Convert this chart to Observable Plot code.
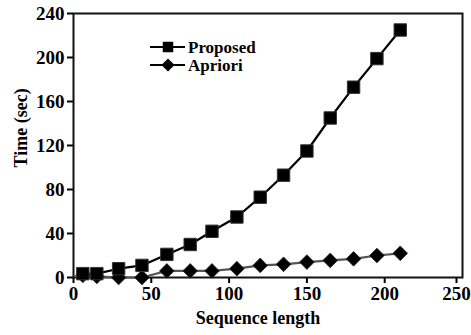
<!DOCTYPE html>
<html>
<head>
<meta charset="utf-8">
<script src="https://cdn.jsdelivr.net/npm/d3@7"></script>
<script src="https://cdn.jsdelivr.net/npm/@observablehq/plot@0.6"></script>
<style>
  html, body { margin: 0; padding: 0; background: #fff; }
  #wrap { position: relative; width: 471px; height: 335px; overflow: hidden; }
  #legend { position: absolute; left: 0; top: 0; }
  svg text { font-family: "Liberation Serif", "Times New Roman", serif; font-weight: bold; }
</style>
</head>
<body>
<div id="wrap"><div id="chart"></div><svg id="legend" width="471" height="335"></svg></div>
<script>
// Data
const seqLength = [6, 15, 29, 44, 60, 75, 89, 105, 120, 135, 150, 165, 180, 195, 210];
const proposed  = [3.5, 3.5, 8, 11, 21, 30, 42, 55, 73, 93, 115, 145, 173, 199, 225];
const apriori   = [2, 1, 0, 0, 6, 6, 6, 8, 11, 12, 14, 15.5, 17, 20, 22];
const seriesNames = ["Proposed", "Apriori"];
const xTicks = [0, 50, 100, 150, 200, 250];
const yTicks = [0, 40, 80, 120, 160, 200, 240];

const propData = seqLength.map((x, i) => ({x, y: proposed[i]}));
const apriData = seqLength.map((x, i) => ({x, y: apriori[i]}));

const FONT = "Liberation Serif";
const axisStyle = { tickSize: 6, tickPadding: 3, strokeWidth: 2, fontSize: 19, fontWeight: "bold", label: null };

const chart = Plot.plot({
  width: 471,
  height: 335,
  marginLeft: 73,
  marginRight: 9,
  marginTop: 13,
  marginBottom: 58,
  style: { fontFamily: FONT, fontSize: "18px", fontWeight: "bold", color: "#000", background: "#fff", overflow: "visible" },
  x: { domain: [0, 250], label: null },
  y: { domain: [0, 240], label: null },
  marks: [
    Plot.axisX({ ...axisStyle, ticks: xTicks.slice(0, -1) }),
    Plot.axisX({ ...axisStyle, ticks: xTicks.slice(-1), dx: -6 }),
    Plot.axisY({ ...axisStyle, ticks: yTicks }),
    Plot.frame({ stroke: "#111", strokeWidth: 2 }),
    Plot.line(apriData, { x: "x", y: "y", stroke: "#555", strokeWidth: 2.2 }),
    Plot.dot(apriData, { x: "x", y: "y", symbol: "diamond2", r: 6.6, fill: "#000", stroke: "#222", strokeWidth: 0.8 }),
    Plot.line(propData, { x: "x", y: "y", stroke: "#000", strokeWidth: 2.2 }),
    Plot.dot(propData, { x: "x", y: "y", symbol: "square", r: 7, fill: "#000", stroke: "#333", strokeWidth: 1 }),
    Plot.text(["Sequence length"], { frameAnchor: "bottom", dy: 46, dx: -10, fontSize: 18, fontWeight: "bold" }),
    Plot.text(["Time (sec)"], { frameAnchor: "left", dx: -52, dy: 22, rotate: -90, fontSize: 18, fontWeight: "bold" })
  ]
});
document.getElementById("chart").appendChild(chart);

// Legend (top-left inside the plot area)
const lg = d3.select("#legend").append("g").attr("font-family", FONT).attr("font-size", 17).attr("font-weight", "bold");
const rows = [
  { name: seriesNames[0], sym: d3.symbolSquare, size: 110 },
  { name: seriesNames[1], sym: d3.symbolDiamond2, size: 110 }
];
rows.forEach((r, i) => {
  const y = 47 + i * 18;
  lg.append("line").attr("x1", 150).attr("x2", 185).attr("y1", y).attr("y2", y).attr("stroke", "#000").attr("stroke-width", 2);
  lg.append("path").attr("d", d3.symbol(r.sym, r.size)()).attr("transform", `translate(168,${y})`).attr("fill", "#000");
  lg.append("text").attr("x", 188).attr("y", y).attr("dy", "0.33em").text(r.name);
});
</script>
</body>
</html>
